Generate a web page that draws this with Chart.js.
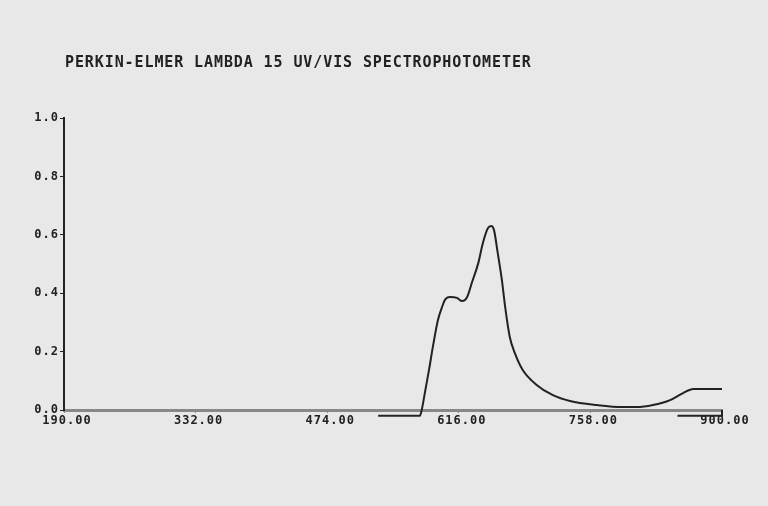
<!DOCTYPE html>
<html lang="en">
<head>
    <meta charset="UTF-8">
    <title>PERKIN-ELMER LAMBDA 15 UV/VIS SPECTROPHOTOMETER</title>
    <script src="https://cdn.jsdelivr.net/npm/chart.js"></script>
    <style>
        body {
            margin: 0;
            background-color: #e8e8e8;
        }
        .chart-box {
            position: relative;
            width: 768px;
            height: 506px;
        }
    </style>
</head>
<body>

    <div class="chart-box">
        <canvas id="specChart"></canvas>
    </div>

    <script>
        // Заголовок распечатки
        const chartTitle = 'PERKIN-ELMER LAMBDA 15 UV/VIS SPECTROPHOTOMETER';

        // Деления осей
        const xTicks = [190, 332, 474, 616, 758, 900];
        const yTicks = [0, 0.2, 0.4, 0.6, 0.8, 1.0];

        // Спектр: длина волны (нм) и поглощение
        const wavelengths = [529, 574, 576, 580, 584, 588, 593.5, 598, 601, 606.5, 614, 619.5, 625, 630, 637, 642, 647.5, 651, 654, 658, 662.5, 666, 671, 676.5, 685, 700, 717.5, 736, 765, 793, 808, 825.5, 844, 858, 869, 900];
        const absorbance = [-0.02, -0.02, 0.0, 0.07, 0.14, 0.216, 0.308, 0.353, 0.377, 0.387, 0.384, 0.373, 0.387, 0.435, 0.503, 0.572, 0.623, 0.630, 0.616, 0.538, 0.445, 0.353, 0.25, 0.195, 0.137, 0.086, 0.051, 0.031, 0.017, 0.010, 0.010, 0.017, 0.034, 0.058, 0.072, 0.072];

        // Короткая базовая линия справа, под осью
        const baseWavelengths = [852, 900, 900];
        const baseAbsorbance = [-0.02, -0.02, 0];

        const ink = '#222222';
        const mono = '"DejaVu Sans Mono", "Liberation Mono", monospace';

        const paperPlugin = {
            id: 'paper',
            beforeDraw(chart) {
                const ctx = chart.ctx;
                ctx.save();
                ctx.fillStyle = '#e8e8e8';
                ctx.fillRect(0, 0, chart.width, chart.height);
                ctx.restore();
                ctx.letterSpacing = '1px';
            },
            afterDraw(chart) {
                const ctx = chart.ctx;
                ctx.save();
                ctx.letterSpacing = '0.9px';
                ctx.font = 'bold 15px ' + mono;
                ctx.fillStyle = ink;
                ctx.textAlign = 'left';
                ctx.textBaseline = 'middle';
                ctx.fillText(chartTitle, chart.chartArea.left + 1, 63);
                ctx.restore();
            }
        };

        const ctx = document.getElementById('specChart').getContext('2d');

        new Chart(ctx, {
            type: 'line',
            data: {
                datasets: [{
                    data: wavelengths.map((w, i) => ({ x: w, y: absorbance[i] })),
                    borderColor: ink,
                    borderWidth: 2,
                    pointRadius: 0,
                    cubicInterpolationMode: 'monotone',
                    clip: false
                }, {
                    data: baseWavelengths.map((w, i) => ({ x: w, y: baseAbsorbance[i] })),
                    borderColor: ink,
                    borderWidth: 2,
                    pointRadius: 0,
                    tension: 0,
                    clip: false
                }]
            },
            options: {
                responsive: true,
                maintainAspectRatio: false,
                animation: false,
                layout: {
                    padding: { top: 118, right: 46, bottom: 74, left: 0 }
                },
                plugins: {
                    legend: { display: false },
                    title: { display: false },
                    tooltip: { enabled: false }
                },
                scales: {
                    x: {
                        type: 'linear',
                        min: 190,
                        max: 900,
                        afterBuildTicks: (scale) => {
                            scale.ticks = xTicks.map(v => ({ value: v }));
                        },
                        afterFit: (scale) => {
                            scale.height = 22;
                        },
                        border: { display: true, color: '#888888', width: 3 },
                        grid: { display: true, drawOnChartArea: false, drawTicks: true, tickLength: 3, color: '#888888' },
                        ticks: {
                            color: ink,
                            padding: 1,
                            labelOffset: 3,
                            maxRotation: 0,
                            autoSkip: false,
                            font: { family: mono, size: 12, weight: 'bold' },
                            callback: (value) => Number(value).toFixed(2)
                        }
                    },
                    y: {
                        min: 0,
                        max: 1,
                        afterBuildTicks: (scale) => {
                            scale.ticks = yTicks.map(v => ({ value: v }));
                        },
                        afterFit: (scale) => {
                            scale.width = 64;
                        },
                        border: { display: true, color: ink, width: 2 },
                        grid: { display: true, drawOnChartArea: false, drawTicks: true, tickLength: 4, color: ink },
                        ticks: {
                            color: ink,
                            padding: 1,
                            font: { family: mono, size: 12, weight: 'bold' },
                            callback: (value) => Number(value).toFixed(1)
                        }
                    }
                }
            },
            plugins: [paperPlugin]
        });
    </script>

</body>
</html>
